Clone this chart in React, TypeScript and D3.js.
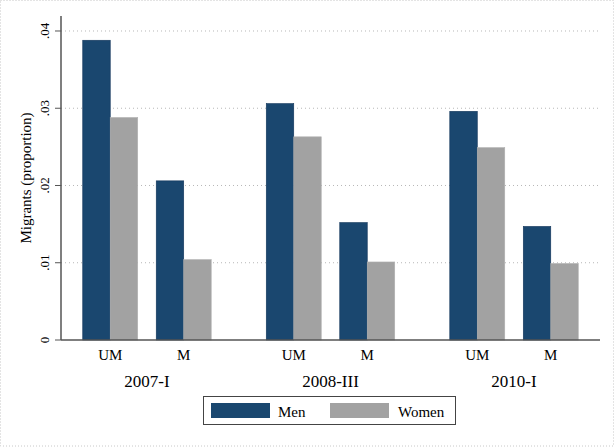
import React from "react";
import * as d3 from "d3";

const periods = ["2007-I", "2008-III", "2010-I"];
const categories = ["UM", "M"];
const seriesNames = ["Men", "Women"];
const menValues = [0.0388, 0.0206, 0.0306, 0.0152, 0.0296, 0.0147];
const womenValues = [0.0288, 0.0104, 0.0263, 0.0101, 0.0249, 0.0099];
const yTicks = [0, 0.01, 0.02, 0.03, 0.04];
const yTickLabels = ["0", ".01", ".02", ".03", ".04"];

const W = 615;
const H = 447;
const colors = ["#1a476f", "#a2a2a2"];
const font = "'Liberation Serif', 'Times New Roman', serif";

export default function App() {
  const left = 61, right = 600, top = 16, bottom = 340;
  const y = d3.scaleLinear().domain([0, 0.04194]).range([bottom, top]);
  const x0 = d3.scaleBand<string>().domain(periods).range([left, right]).paddingInner(0.3).paddingOuter(0.1185);
  const x1 = d3.scaleBand<string>().domain(categories).range([0, x0.bandwidth()]).paddingInner(0.252).paddingOuter(0);
  const x2 = d3.scaleBand<string>().domain(seriesNames).range([0, x1.bandwidth()]);

  const bars: { key: string; x: number; w: number; v: number; c: string }[] = [];
  periods.forEach((p, pi) => {
    categories.forEach((c, ci) => {
      const idx = pi * categories.length + ci;
      [menValues[idx], womenValues[idx]].forEach((v, si) => {
        bars.push({
          key: `${p}-${c}-${si}`,
          x: (x0(p) ?? 0) + (x1(c) ?? 0) + (x2(seriesNames[si]) ?? 0),
          w: x2.bandwidth(),
          v,
          c: colors[si],
        });
      });
    });
  });

  return (
    <svg width={W} height={H} style={{ position: "absolute", left: 0, top: 0, background: "#fff" }} fontFamily={font}>
      <rect x={0} y={0} width={W} height={H} fill="#fff" />
      <rect x={0.5} y={0.5} width={613} height={445.5} fill="none" stroke="#c8c8c8" strokeDasharray="1,2" />
      {yTicks.slice(1).map((t) => (
        <line key={t} x1={left} x2={right} y1={y(t)} y2={y(t)} stroke="#b8b8b8" strokeWidth={1} strokeDasharray="1,3" />
      ))}
      {bars.map((b) => (
        <rect key={b.key} x={b.x} y={y(b.v)} width={b.w} height={y(0) - y(b.v)} fill={b.c} stroke={b.c === colors[0] ? "#12355a" : "#b0b0b0"} strokeWidth={0.6} />
      ))}
      <line x1={left} x2={left} y1={top} y2={bottom} stroke="#555" strokeWidth={1.5} />
      <line x1={left} x2={right} y1={bottom} y2={bottom} stroke="#555" strokeWidth={1.5} />
      {yTicks.map((t, i) => (
        <g key={t}>
          <line x1={left - 6} x2={left} y1={y(t)} y2={y(t)} stroke="#555" strokeWidth={1} />
          <text transform={`translate(49,${y(t)}) rotate(-90)`} textAnchor="middle" fontSize={13} fill="#000">
            {yTickLabels[i]}
          </text>
        </g>
      ))}
      <text transform={`translate(31,${(top + bottom) / 2}) rotate(-90)`} textAnchor="middle" fontSize={15} fill="#000">
        Migrants (proportion)
      </text>
      {periods.map((p) => (
        <g key={p}>
          {categories.map((c) => (
            <text key={c} x={(x0(p) ?? 0) + (x1(c) ?? 0) + x1.bandwidth() / 2} y={360} textAnchor="middle" fontSize={15} fill="#000">
              {c}
            </text>
          ))}
          <text x={(x0(p) ?? 0) + x0.bandwidth() / 2} y={387} textAnchor="middle" fontSize={17} fill="#000">
            {p}
          </text>
        </g>
      ))}
      <rect x={203.5} y={396.5} width={252} height={28} fill="#fff" stroke="#444" strokeWidth={1} />
      {seriesNames.map((s, i) => (
        <g key={s}>
          <rect x={211 + i * 119} y={403} width={59} height={15} fill={colors[i]} />
          <text x={278 + i * 120} y={417} fontSize={15} fill="#000">
            {s}
          </text>
        </g>
      ))}
    </svg>
  );
}
